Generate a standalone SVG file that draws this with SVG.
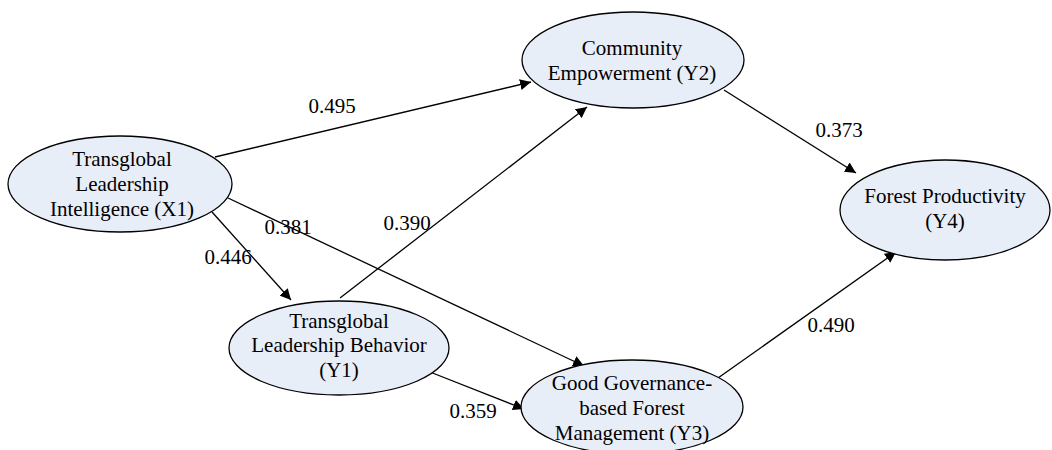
<svg xmlns="http://www.w3.org/2000/svg" width="1052" height="450" viewBox="0 0 1052 450">
<style>
.n{fill:#e8eef8;stroke:#000;stroke-width:1.3}
.c{stroke:#000;stroke-width:1.3;fill:none;marker-end:url(#a)}
</style>
<defs>
<marker id="a" viewBox="0 0 10 10" refX="10" refY="5" markerWidth="11" markerHeight="11" markerUnits="userSpaceOnUse" orient="auto">
<path d="M0,0 L10,5 L0,10 z" fill="#000"/>
</marker>
</defs>
<rect width="1052" height="450" fill="#fff"/>
<g font-family="Liberation Serif, Times New Roman, serif" font-size="21" text-anchor="middle" fill="#000">
<g id="connectors">
<line class="c" x1="215" y1="157" x2="531" y2="82"/>
<line class="c" x1="212" y1="212" x2="291" y2="300"/>
<line class="c" x1="228" y1="198" x2="584" y2="366"/>
<line class="c" x1="340" y1="298" x2="587" y2="107"/>
<line class="c" x1="430" y1="372" x2="524" y2="409"/>
<line class="c" x1="724" y1="90" x2="856" y2="173"/>
<line class="c" x1="718" y1="378" x2="896" y2="252"/>
</g>
<g id="labels">
<text x="332" y="113">0.495</text>
<text x="228" y="264">0.446</text>
<text x="288" y="234">0.381</text>
<text x="407" y="230">0.390</text>
<text x="473" y="418">0.359</text>
<text x="839" y="137">0.373</text>
<text x="831" y="332">0.490</text>
</g>
<g id="X1">
<ellipse class="n" cx="120" cy="184" rx="112" ry="48"/>
<text x="122" y="166">Transglobal</text>
<text x="122" y="191">Leadership</text>
<text x="122" y="216">Intelligence (X1)</text>
</g>
<g id="Y2">
<ellipse class="n" cx="633" cy="60" rx="111" ry="48"/>
<text x="632" y="55">Community</text>
<text x="632" y="80">Empowerment (Y2)</text>
</g>
<g id="Y1">
<ellipse class="n" cx="339" cy="348" rx="110" ry="47"/>
<text x="339" y="328">Transglobal</text>
<text x="339" y="352">Leadership Behavior</text>
<text x="339" y="377">(Y1)</text>
</g>
<g id="Y3">
<ellipse class="n" cx="632" cy="407" rx="111" ry="47"/>
<text x="632" y="390">Good Governance-</text>
<text x="632" y="415">based Forest</text>
<text x="632" y="440">Management (Y3)</text>
</g>
<g id="Y4">
<ellipse class="n" cx="945" cy="210" rx="105" ry="50"/>
<text x="945" y="203">Forest Productivity</text>
<text x="945" y="228">(Y4)</text>
</g>
</g>
</svg>
